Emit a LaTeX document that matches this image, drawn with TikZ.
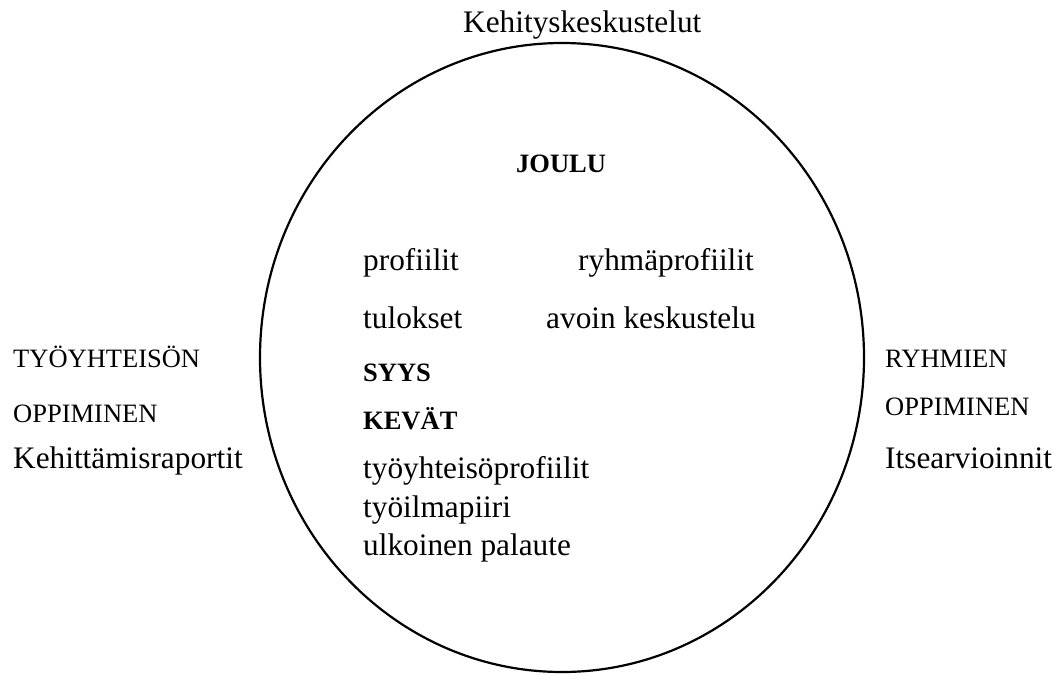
\documentclass[tikz,border=0pt]{standalone}
\usepackage{fontspec}
\setmainfont{Liberation Serif}
\begin{document}
\begin{tikzpicture}[x=1pt,y=-1pt,
  big/.style={anchor=base west,inner sep=0pt,font=\fontsize{31.3}{37}\selectfont},
  small/.style={anchor=base west,inner sep=0pt,font=\fontsize{26.5}{32}\selectfont},
  season/.style={anchor=base west,inner sep=0pt,font=\fontsize{26.5}{32}\selectfont\bfseries}]
\useasboundingbox (0,0) rectangle (1061,675);
\draw[line width=2.2pt] (562,357.5) ellipse [x radius=302, y radius=314.5];
\node[big] (top) at (463,32) {Kehityskeskustelut};
\node[season] (joulu) at (516,172) {JOULU};
\node[big] (prof) at (363,270) {profiilit};
\node[big] (ryhma) at (578,270) {ryhmäprofiilit};
\node[big] (tul) at (363,328) {tulokset};
\node[big] (avoin) at (546,328) {avoin keskustelu};
\node[season] (syys) at (363,381) {SYYS};
\node[season] (kevat) at (363,429) {KEVÄT};
\node[big] (tyop) at (363,478) {työyhteisöprofiilit};
\node[big] (tyoil) at (363,517) {työilmapiiri};
\node[big] (ulk) at (363,555) {ulkoinen palaute};
\node[small] (ltop) at (13,367) {TYÖYHTEISÖN};
\node[small] (lopp) at (13,422) {OPPIMINEN};
\node[big] (lkeh) at (13,468) {Kehittämisraportit};
\node[small] (rtop) at (885,367) {RYHMIEN};
\node[small] (ropp) at (885,415) {OPPIMINEN};
\node[big] (rits) at (885,468) {Itsearvioinnit};
\end{tikzpicture}
\end{document}
